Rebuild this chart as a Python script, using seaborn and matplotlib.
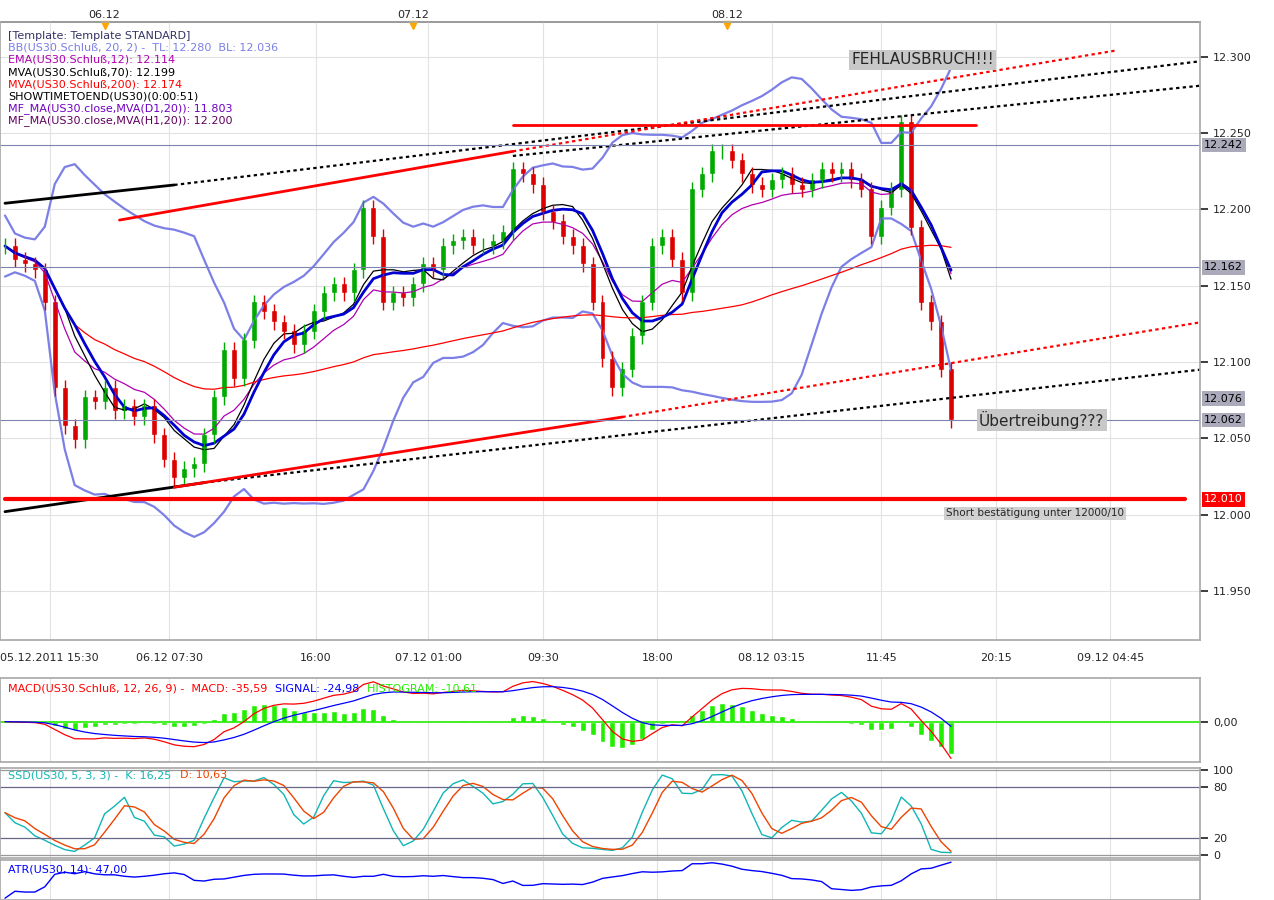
import numpy as np
import pandas as pd
import matplotlib
matplotlib.use("Agg")
import matplotlib.pyplot as plt
import seaborn as sns

sns.set_theme(style="white")
plt.rcParams['font.family'] = ['DejaVu Sans']

# closing prices (one value every ~10 px)
closes = [12.176, 12.167, 12.164, 12.160, 12.139, 12.083, 12.058, 12.049, 12.077, 12.074,
          12.083, 12.068, 12.071, 12.064, 12.071, 12.052, 12.036, 12.024, 12.030, 12.033,
          12.052, 12.077, 12.108, 12.089, 12.114, 12.139, 12.133, 12.126, 12.120, 12.111,
          12.120, 12.133, 12.145, 12.151, 12.145, 12.160, 12.201, 12.182, 12.139, 12.145,
          12.142, 12.151, 12.164, 12.160, 12.176, 12.179, 12.182, 12.176, 12.176, 12.179,
          12.185, 12.226, 12.223, 12.216, 12.198, 12.192, 12.182, 12.176, 12.164, 12.139,
          12.102, 12.083, 12.095, 12.117, 12.139, 12.176, 12.182, 12.167, 12.145, 12.213,
          12.223, 12.238, 12.238, 12.232, 12.223, 12.216, 12.213, 12.219, 12.223, 12.216,
          12.213, 12.219, 12.226, 12.223, 12.226, 12.219, 12.213, 12.182, 12.201, 12.213,
          12.257, 12.188, 12.139, 12.126, 12.095, 12.062]
bottom_labels = ["05.12.2011 15:30", "06.12 07:30", "16:00", "07.12 01:00", "09:30",
                 "18:00", "08.12 03:15", "11:45", "20:15", "09.12 04:45"]
bottom_pos = [4.5, 16.5, 31.2, 42.5, 54, 65.5, 77, 88, 99.5, 111]
top_labels = ["06.12", "07.12", "08.12"]
top_pos = [10, 41, 72.5]
price_marks = [12.242, 12.162, 12.076, 12.062, 12.010]
# trend lines: (bar start, price start, bar end, price end, bar dotted end, price dotted end)
trend_black = [(0, 12.204, 17, 12.216, 120, 12.297), (0, 12.002, 20, 12.021, 120, 12.095),
               (51, 12.235, 51, 12.235, 120, 12.281)]
trend_red = [(11.5, 12.193, 51, 12.238, 111.5, 12.304), (17, 12.018, 62, 12.064, 120, 12.126)]
resist = (51, 97.5, 12.255)
support = (0, 118.5, 12.010)

c = pd.Series(closes)
o = c.shift(1).fillna(c.iloc[0])
hi = np.maximum(o, c) + 0.005
lo = np.minimum(o, c) - 0.005
x = np.arange(len(c))

fig = plt.figure(figsize=(12.74, 9), dpi=100)
W = 1200 / 1274
ax = fig.add_axes([0, 0.289, W, 0.687])
ax1 = fig.add_axes([0, 0.153, W, 0.094], sharex=ax)
ax2 = fig.add_axes([0, 0.047, W, 0.1], sharex=ax)
ax3 = fig.add_axes([0, 0.0, W, 0.044], sharex=ax)

# indicators
mid = c.rolling(20, min_periods=1).mean()
sd = c.rolling(20, min_periods=2).std().fillna(0.01)
ax.plot(x, mid + 2 * sd, color="#7b7fe6", lw=1.6)
ax.plot(x, mid - 2 * sd, color="#7b7fe6", lw=1.6)
ax.plot(x, c.ewm(span=12).mean(), color="#b000b0", lw=0.9)
ax.plot(x, c.rolling(7, min_periods=1).mean(), color="black", lw=0.9)
ax.plot(x, c.rolling(70, min_periods=1).mean(), color="red", lw=0.9)
ax.plot(x, c.rolling(8, min_periods=1).mean(), color="#0000d0", lw=2)

for i in x:
    col = "#00aa00" if c[i] >= o[i] else "#dd0000"
    ax.vlines(i, lo[i], hi[i], color=col, lw=1)
    ax.bar(i, abs(c[i] - o[i]) + 0.0008, bottom=min(c[i], o[i]), width=0.6, color=col)

for x0, y0, x1, y1, x2, y2 in trend_black:
    ax.plot([x0, x1], [y0, y1], color="black", lw=2)
    ax.plot([x1, x2], [y1, y2], color="black", lw=1.6, ls=(0, (1.5, 1.5)))
for x0, y0, x1, y1, x2, y2 in trend_red:
    ax.plot([x0, x1], [y0, y1], color="red", lw=2)
    ax.plot([x1, x2], [y1, y2], color="red", lw=1.6, ls=(0, (1.5, 1.5)))
ax.plot([resist[0], resist[1]], [resist[2]] * 2, color="red", lw=2)
ax.plot([support[0], support[1]], [support[2]] * 2, color="red", lw=3)
for p in [12.242, 12.162, 12.062]:
    ax.axhline(p, color="#7e83b0", lw=0.8)

ax.set_xlim(-0.5, 120)
ax.set_ylim(11.918, 12.323)
ax.yaxis.tick_right()
ticks = np.arange(11.95, 12.301, 0.05)
ax.set_yticks(ticks)
ax.set_yticklabels([f"{v:.3f}" for v in ticks], fontsize=8)
ax.set_xticks(bottom_pos)
ax.set_xticklabels(bottom_labels, fontsize=8)
ax.grid(color="#e2e2e2", lw=0.8)
for v in price_marks:
    fc = "red" if v == 12.010 else "#aab"
    ax.annotate(f"{v:.3f}", xy=(1.0, v), xycoords=("axes fraction", "data"), xytext=(3, 0),
                textcoords="offset points", va="center", fontsize=8,
                color="white" if v == 12.010 else "black",
                bbox=dict(boxstyle="square,pad=0.2", fc=fc, ec="none"))
top = ax.secondary_xaxis("top")
top.set_xticks(top_pos)
top.set_xticklabels(top_labels, fontsize=8)
top.tick_params(length=0, pad=1)
for tp in top_pos:
    ax.plot(tp, 12.321, marker="v", color="orange", ms=6, clip_on=False)

ax.text(85, 12.298, "FEHLAUSBRUCH!!!", fontsize=11, va="center",
        bbox=dict(boxstyle="square,pad=0.15", fc="#c8c8c8", ec="none"))
ax.text(97.8, 12.062, "Übertreibung???", fontsize=11, va="center",
        bbox=dict(boxstyle="square,pad=0.15", fc="#c8c8c8", ec="none"))
ax.text(94.5, 12.001, "Short bestätigung unter 12000/10", fontsize=7.5, va="center",
        bbox=dict(boxstyle="square,pad=0.15", fc="#d0d0d0", ec="none"))

legend = [("[Template: Template STANDARD]", "#333366"),
          ("BB(US30.Schluß, 20, 2) -  TL: 12.280  BL: 12.036", "#7b7fe6"),
          ("EMA(US30.Schluß,12): 12.114", "#b000b0"),
          ("MVA(US30.Schluß,70): 12.199", "black"),
          ("MVA(US30.Schluß,200): 12.174", "red"),
          ("SHOWTIMETOEND(US30)(0:00:51)", "black"),
          ("MF_MA(US30.close,MVA(D1,20)): 11.803", "#7000c0"),
          ("MF_MA(US30.close,MVA(H1,20)): 12.200", "#600060")]
for k, (t, col) in enumerate(legend):
    ax.text(0.007, 0.985 - k * 0.0195, t, transform=ax.transAxes, fontsize=8, color=col, va="top")

# MACD
macd = c.ewm(span=12).mean() - c.ewm(span=26).mean()
sig = macd.ewm(span=9).mean()
ax1.bar(x, macd - sig, color="#22ee00", width=0.6)
ax1.axhline(0, color="#22ee00", lw=1.2)
ax1.plot(x, macd, color="red", lw=0.9)
ax1.plot(x, sig, color="blue", lw=0.9)
ax1.yaxis.tick_right()
ax1.set_yticks([0])
ax1.set_yticklabels(["0,00"], fontsize=8)
ax1.grid(color="#e2e2e2", lw=0.8)
ax1.text(0.007, 0.93, "MACD(US30.Schluß, 12, 26, 9) -  MACD: -35,59", transform=ax1.transAxes, fontsize=8, color="red", va="top")
ax1.text(0.229, 0.93, "SIGNAL: -24,98", transform=ax1.transAxes, fontsize=8, color="blue", va="top")
ax1.text(0.306, 0.93, "HISTOGRAM: -10,61", transform=ax1.transAxes, fontsize=8, color="#22ee00", va="top")

# stochastic
hh = pd.Series(hi).rolling(5, min_periods=1).max()
ll = pd.Series(lo).rolling(5, min_periods=1).min()
k = (100 * (c - ll) / (hh - ll)).rolling(3, min_periods=1).mean()
d = k.rolling(3, min_periods=1).mean()
ax2.plot(x, k, color="#11b5b5", lw=1)
ax2.plot(x, d, color="#ee4400", lw=1)
for lv in [0, 20, 80, 100]:
    ax2.axhline(lv, color="#666688" if lv in (20, 80) else "#999999", lw=0.9)
ax2.set_ylim(-3, 103)
ax2.yaxis.tick_right()
ax2.set_yticks([0, 20, 80, 100])
ax2.set_yticklabels(["0", "20", "80", "100"], fontsize=8)
ax2.grid(axis="x", color="#e2e2e2", lw=0.8)
ax2.text(0.007, 0.97, "SSD(US30, 5, 3, 3) -  K: 16,25", transform=ax2.transAxes, fontsize=8, color="#11b5b5", va="top")
ax2.text(0.15, 0.97, "D: 10,63", transform=ax2.transAxes, fontsize=8, color="#ee4400", va="top")

# ATR
tr = pd.Series(hi - lo) + (c - o).abs()
ax3.plot(x, tr.rolling(14, min_periods=1).mean(), color="blue", lw=1)
ax3.yaxis.tick_right()
ax3.set_yticks([])
ax3.grid(axis="x", color="#e2e2e2", lw=0.8)
ax3.text(0.007, 0.9, "ATR(US30, 14): 47,00", transform=ax3.transAxes, fontsize=8, color="blue", va="top")

for a in (ax1, ax2, ax3):
    plt.setp(a.get_xticklabels(), visible=False)
    a.tick_params(axis="x", length=0)
for a in (ax, ax1, ax2, ax3):
    for s in a.spines.values():
        s.set_color("#aaaaaa")

fig.savefig("out.png", dpi=100)
